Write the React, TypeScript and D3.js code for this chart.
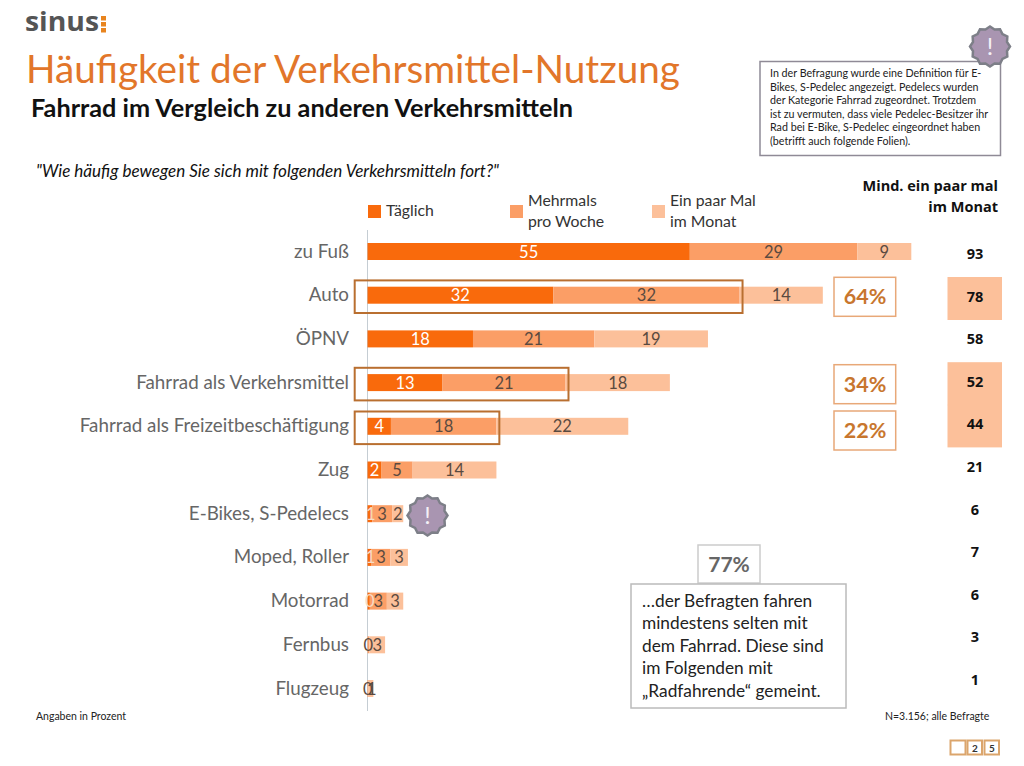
import React from "react";
import * as d3 from "d3";

const categories = ["zu Fuß","Auto","ÖPNV","Fahrrad als Verkehrsmittel","Fahrrad als Freizeitbeschäftigung","Zug","E-Bikes, S-Pedelecs","Moped, Roller","Motorrad","Fernbus","Flugzeug"];
const daily = [55,31.7,18,12.8,4,2.4,0.8,0.7,0.4,0,0];
const weekly = [28.6,31.8,20.7,21,18,5.3,3.4,3.2,2.9,0.3,0.1];
const monthly = [9.2,14.2,19.4,17.8,22.5,14.3,1.9,3,2.8,2.7,0.9];
const dailyLabels = ["55","32","18","13","4","2","1","1","0","",""];
const weeklyLabels = ["29","32","21","21","18","5","3","3","3","0","0"];
const monthlyLabels = ["9","14","19","18","22","14","2","3","3","3","1"];
const totals = ["93","78","58","52","44","21","6","7","6","3","1"];
const highlightedTotals = [1,3,4];
const outlineRows = [1,3,4];
const outlineEnds = [64,34.3,22.5];
const shareLabels = ["64%","34%","22%"];
const legendItems = [["Täglich"],["Mehrmals","pro Woche"],["Ein paar Mal","im Monat"]];
const noteLines = ["In der Befragung wurde eine Definition für E-","Bikes, S-Pedelec angezeigt. Pedelecs wurden","der Kategorie Fahrrad zugeordnet. Trotzdem","ist zu vermuten, dass viele Pedelec-Besitzer ihr","Rad bei E-Bike, S-Pedelec eingeordnet haben","(betrifft auch folgende Folien)."];
const calloutLines = ["…der Befragten fahren","mindestens selten mit","dem Fahrrad. Diese sind","im Folgenden mit","„Radfahrende“ gemeint."];

const colors = ["#f96a0c","#fb9e66","#fcc09a"];
const font = "Lato, 'Open Sans', sans-serif";
const boldFont = "'Open Sans', sans-serif";
const x = d3.scaleLinear().domain([0,100]).range([367.5,953.5]);
const y = d3.scalePoint<number>().domain(d3.range(categories.length)).range([251.5,688.5]);
const yTotals = d3.scalePoint<number>().domain(d3.range(categories.length)).range([254,680]);
const shareTops = [277.3,364.7,411];

function badge(cx:number, cy:number, r:number) {
  const n = 12;
  const pts = d3.range(n*2).map(i => {
    const a = i*Math.PI/n - Math.PI/2;
    const rr = i%2===0 ? r : r*0.88;
    return [cx+rr*Math.cos(a), cy+rr*Math.sin(a)] as [number,number];
  });
  const path = d3.line().curve(d3.curveLinearClosed)(pts) as string;
  return (
    <g>
      <path d={path} fill="#a995b1" stroke="#7d7f88" strokeWidth={2.5}/>
      <text x={cx} y={cy+8.5} textAnchor="middle" fontSize={24} fontFamily={font} fill="#f4f0f6">!</text>
    </g>
  );
}

export default function App() {
  return (
    <svg width={1024} height={766} style={{position:"absolute",left:0,top:0,background:"#fff"}} fontFamily={font}>
      <text x={25} y={31} fontSize={27} fontWeight={700} fontFamily={boldFont} fill="#555" textLength={74} lengthAdjust="spacingAndGlyphs">sinus</text>
      <rect x={101} y={16} width={5} height={4.5} fill="#e8841e"/>
      <rect x={101} y={22} width={5} height={4.5} fill="#e8841e"/>
      <rect x={101} y={28} width={5} height={4.5} fill="#e8841e"/>
      <text x={26} y={83} fontSize={39} fill="#e2762a" textLength={654} lengthAdjust="spacingAndGlyphs">Häufigkeit der Verkehrsmittel-Nutzung</text>
      <text x={31} y={117} fontSize={24.5} fontWeight={700} fill="#111" textLength={542} lengthAdjust="spacingAndGlyphs">Fahrrad im Vergleich zu anderen Verkehrsmitteln</text>
      <text x={36} y={177} fontSize={16.5} fontStyle="italic" fill="#111" textLength={463} lengthAdjust="spacingAndGlyphs">"Wie häufig bewegen Sie sich mit folgenden Verkehrsmitteln fort?"</text>

      {legendItems.map((lines,i) => {
        const lx = [368,510,652][i];
        return <g key={i}>
          <rect x={lx} y={205} width={13} height={13} fill={colors[i]}/>
          {lines.length===1
            ? <text x={lx+18} y={216} fontSize={15.8} fill="#333">{lines[0]}</text>
            : lines.map((l,j)=><text key={j} x={lx+18} y={206+j*21} fontSize={15.8} fill="#333">{l}</text>)}
        </g>;
      })}

      <line x1={367.5} x2={367.5} y1={230} y2={711} stroke="#c5cdd3" strokeWidth={1}/>

      {categories.map((c,i)=>{
        const cy = y(i)!;
        const s1 = daily[i], s2 = s1+weekly[i], s3 = s2+monthly[i];
        const h = 17;
        return <g key={c}>
          <text x={349} y={cy+6} textAnchor="end" fontSize={18.8} fill="#666">{c}</text>
          <rect x={x(0)} y={cy-h/2} width={x(s1)-x(0)} height={h} fill={colors[0]}/>
          <rect x={x(s1)} y={cy-h/2} width={x(s2)-x(s1)} height={h} fill={colors[1]}/>
          <rect x={x(s2)} y={cy-h/2} width={x(s3)-x(s2)} height={h} fill={colors[2]}/>
          {dailyLabels[i] && <text x={(x(0)+x(s1))/2+(s1<1?1:0)} y={cy+6} textAnchor="middle" fontSize={16.5} fill={s1>=1.5?"#fff":"#f7dcc6"}>{dailyLabels[i]}</text>}
          <text x={(x(s1)+x(s2))/2} y={cy+6} textAnchor="middle" fontSize={16.5} fill="#5a4a40">{weeklyLabels[i]}</text>
          <text x={(x(s2)+x(s3))/2+(s3<1.5?1:0)} y={cy+6} textAnchor="middle" fontSize={16.5} fill="#5a4a40">{monthlyLabels[i]}</text>
        </g>;
      })}

      {outlineRows.map((row,k)=>{
        const cy = y(row)!;
        return <g key={row}>
          <rect x={354.7} y={cy-14.8} width={x(outlineEnds[k])-354.7} height={32.6} fill="none" stroke="#b96f30" strokeWidth={2}/>
          <rect x={834} y={shareTops[k]} width={61.7} height={39} fill="#fff" stroke="#e8a878" strokeWidth={1.5}/>
          <text x={865} y={shareTops[k]+27} textAnchor="middle" fontSize={21.5} fontWeight={700} fill="#c8762e">{shareLabels[k]}</text>
        </g>;
      })}

      <text x={998} y={191} textAnchor="end" fontSize={14.5} fontWeight={700} fill="#111" fontFamily={boldFont}>Mind. ein paar mal</text>
      <text x={998} y={212} textAnchor="end" fontSize={14.5} fontWeight={700} fill="#111" fontFamily={boldFont}>im Monat</text>
      {totals.map((t,i)=>{
        const cy = yTotals(i)!;
        return <g key={i}>
          {highlightedTotals.includes(i) && <rect x={947.5} y={cy-19.6} width={54.5} height={i===4?42.6:43} fill="#fcc09a"/>}
          <text x={975} y={cy+5} textAnchor="middle" fontSize={14.5} fontWeight={700} fill="#111" fontFamily={boldFont}>{t}</text>
        </g>;
      })}

      <rect x={760} y={61.5} width={240.5} height={94} fill="#fff" stroke="#8f8a96" strokeWidth={1.5}/>
      {noteLines.map((l,i)=><text key={i} x={770} y={77+i*13.6} fontSize={10.7} fill="#222">{l}</text>)}
      {badge(990,46.5,20)}
      {badge(427.5,515.5,20)}

      <rect x={698} y={545} width={62} height={38} fill="#fff" stroke="#ccc" strokeWidth={1.5}/>
      <text x={729} y={572} textAnchor="middle" fontSize={21} fontWeight={700} fill="#666">77%</text>
      <rect x={631} y={584} width={215} height={124} fill="#fff" stroke="#bbb" strokeWidth={1.5}/>
      {calloutLines.map((l,i)=><text key={i} x={642} y={606.5+i*22.6} fontSize={17.3} fill="#222">{l}</text>)}

      <text x={36} y={720} fontSize={10.5} fill="#222">Angaben in Prozent</text>
      <text x={885} y={720} fontSize={10.5} fill="#222">N=3.156; alle Befragte</text>

      <rect x={950.5} y={740.5} width={15} height={14} fill="#fff" stroke="#dba56c" strokeWidth={2}/>
      <rect x={967.5} y={740.5} width={14.5} height={14} fill="#fff" stroke="#dba56c" strokeWidth={2}/>
      <rect x={984.5} y={740.5} width={14.5} height={14} fill="#fff" stroke="#dba56c" strokeWidth={2}/>
      <text x={975} y={752} textAnchor="middle" fontSize={10} fontWeight={700} fill="#333">2</text>
      <text x={992} y={752} textAnchor="middle" fontSize={10} fontWeight={700} fill="#333">5</text>
    </svg>
  );
}
